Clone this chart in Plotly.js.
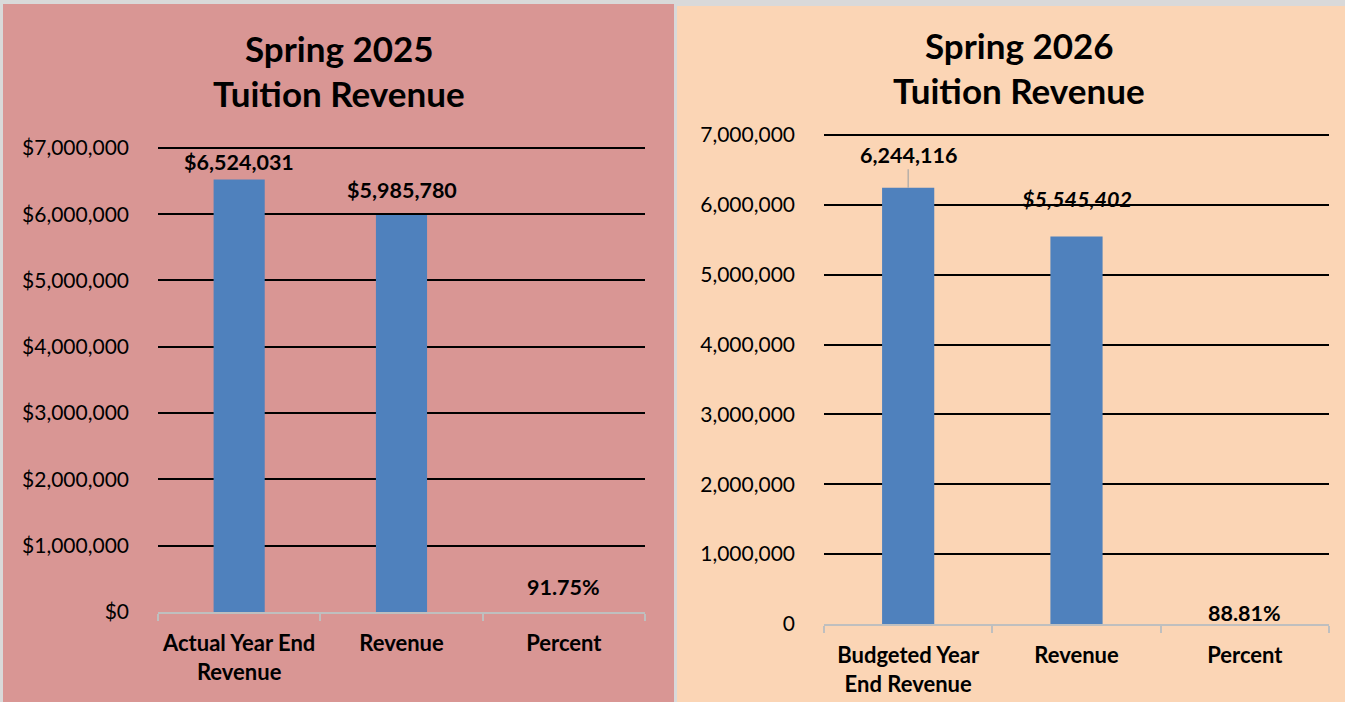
<!DOCTYPE html>
<html>
<head>
<meta charset="utf-8">
<script src="https://cdn.plot.ly/plotly-3.0.1.min.js"></script>
<style>html,body{margin:0;padding:0;background:#D9D9D9;}#chart{width:1345px;height:702px;}</style>
</head>
<body>
<div id="chart"></div>
<script>
// ---- data ----
const titles2025 = ["Spring 2025", "Tuition Revenue"];
const categories2025 = ["Actual Year End<br>Revenue", "Revenue", "Percent"];
const values2025 = [6524031, 5985780, 0.9175];
const labels2025 = ["$6,524,031", "$5,985,780", "91.75%"];

const titles2026 = ["Spring 2026", "Tuition Revenue"];
const categories2026 = ["Budgeted Year<br>End Revenue", "Revenue", "Percent"];
const values2026 = [6244116, 5545402, 0.8881];
const labels2026 = ["6,244,116", "$5,545,402", "88.81%"];

const yMax = 7000000;
const yStep = 1000000;

// ---- styling ----
const W = 1345, H = 702;
const FONT = "Lato, 'Noto Sans', sans-serif";
const barColor = "#4F81BD";
const px = v => v / W;
const py = v => 1 - v / H;
const yPad = 1.004; // tiny headroom so the top gridline is drawn

const traces = [
  {type: "bar", x: categories2025, y: values2025, xaxis: "x", yaxis: "y",
   width: 0.315, marker: {color: barColor}, hoverinfo: "skip"},
  {type: "bar", x: categories2026, y: values2026, xaxis: "x2", yaxis: "y2",
   width: 0.31, marker: {color: barColor}, hoverinfo: "skip"}
];

const axisX = {
  type: "category", showgrid: false, zeroline: false,
  showline: true, linecolor: "#BFBFBF", linewidth: 2,
  ticks: "outside", tickson: "boundaries", ticklen: 7, tickcolor: "#BFBFBF", tickwidth: 2,
  tickfont: {family: FONT, size: 22, color: "#000", weight: 700},
  tickangle: 0, ticklabelstandoff: 11, fixedrange: true
};
const axisY = {
  range: [0, yMax * yPad], dtick: yStep, tick0: 0,
  showgrid: true, gridcolor: "#000", gridwidth: 2,
  zeroline: false, showline: false, ticks: "",
  tickfont: {family: FONT, size: 21, color: "#000"},
  ticklabelstandoff: 28, fixedrange: true
};

const layout = {
  width: W, height: H,
  margin: {l: 0, r: 0, t: 0, b: 0},
  paper_bgcolor: "#D9D9D9", plot_bgcolor: "rgba(0,0,0,0)",
  showlegend: false,
  xaxis: Object.assign({}, axisX, {domain: [px(158), px(645)], anchor: "y"}),
  yaxis: Object.assign({}, axisY, {domain: [py(612), py(146)], anchor: "x",
          tickprefix: "$", tickformat: ",.0f"}),
  xaxis2: Object.assign({}, axisX, {domain: [px(824), px(1329)], anchor: "y2"}),
  yaxis2: Object.assign({}, axisY, {domain: [py(624), py(133)], anchor: "x2",
          tickformat: ",.0f"}),
  shapes: [
    {type: "rect", xref: "paper", yref: "paper", x0: px(3), x1: px(674), y0: 0, y1: py(4),
     fillcolor: "#D99694", line: {width: 0}, layer: "below"},
    {type: "rect", xref: "paper", yref: "paper", x0: px(677), x1: 1, y0: 0, y1: py(6),
     fillcolor: "#FBD5B5", line: {width: 0}, layer: "below"}
  ],
  annotations: []
};

// titles
const titleFont = {family: FONT, size: 35, color: "#000", weight: 700};
[[titles2025, 339, [48, 93]], [titles2026, 1019, [45, 90]]].forEach(([t, cx, ys]) => {
  t.forEach((line, i) => layout.annotations.push({
    xref: "paper", yref: "paper", x: px(cx), y: py(ys[i]), text: line,
    showarrow: false, xanchor: "center", yanchor: "middle", font: titleFont
  }));
});

// data labels
const labelFont = {family: FONT, size: 21.5, color: "#000", weight: 700};
const shifts2025 = [17, 25, 25];
categories2025.forEach((c, i) => layout.annotations.push({
  xref: "x", yref: "y", x: c, y: values2025[i], text: labels2025[i],
  showarrow: false, xanchor: "center", yanchor: "middle", yshift: shifts2025[i], font: labelFont
}));
const shifts2026 = [0, 38, 11];
categories2026.forEach((c, i) => {
  const a = {xref: "x2", yref: "y2", x: c, y: values2026[i], text: labels2026[i],
    xanchor: "center", yanchor: "middle", font: Object.assign({}, labelFont)};
  if (i === 0) {
    Object.assign(a, {showarrow: true, arrowhead: 0, arrowwidth: 1.2, arrowcolor: "#A6A6A6",
      ax: 0, ay: -33, standoff: 0});
  } else {
    Object.assign(a, {showarrow: false, yshift: shifts2026[i]});
  }
  if (i === 1) a.font.style = "italic";
  layout.annotations.push(a);
});

Plotly.newPlot("chart", traces, layout, {displayModeBar: false, staticPlot: true});
</script>
</body>
</html>
